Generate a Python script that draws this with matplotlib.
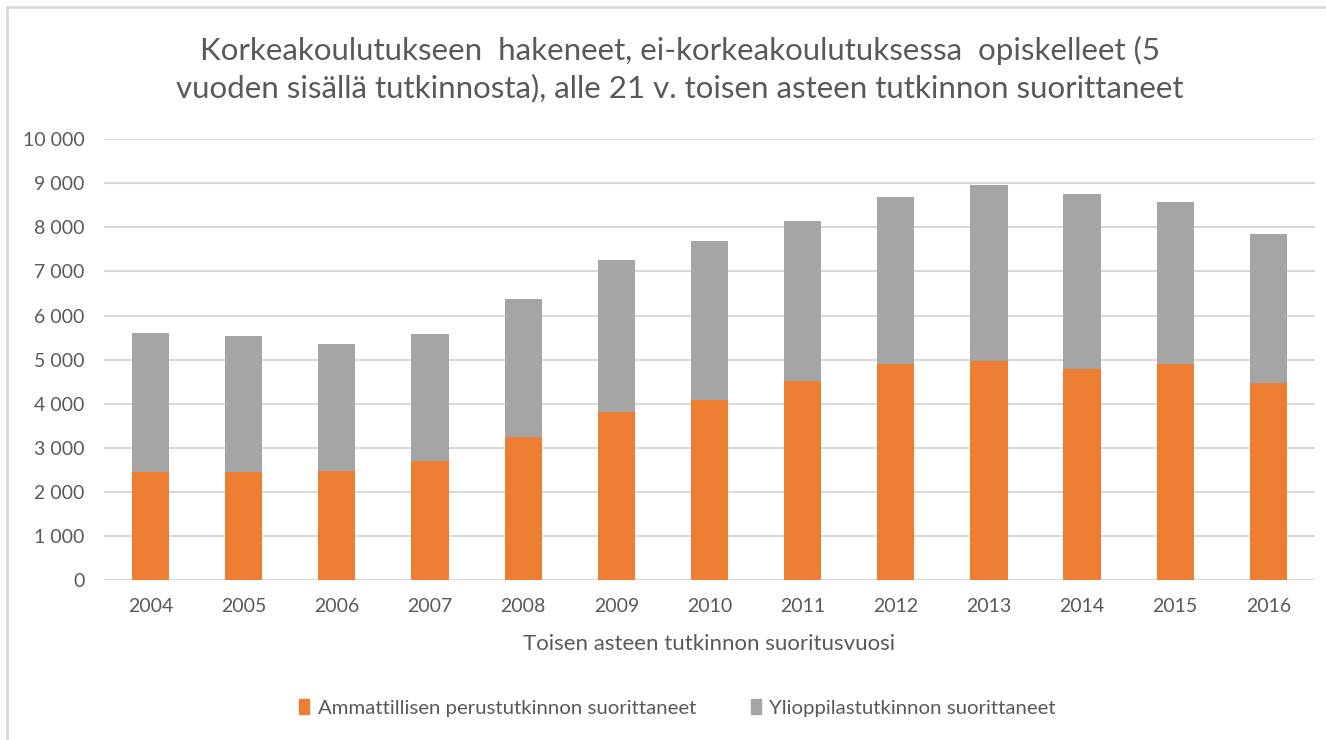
import matplotlib
matplotlib.use("Agg")
import matplotlib.pyplot as plt
from matplotlib.ticker import FuncFormatter
from matplotlib.lines import Line2D
import numpy as np

plt.rcParams['font.family'] = ['Lato', 'DejaVu Sans']

# data
years = ['2004', '2005', '2006', '2007', '2008', '2009', '2010',
         '2011', '2012', '2013', '2014', '2015', '2016']
ammatillinen = [2440, 2440, 2470, 2690, 3240, 3820, 4080,
                4510, 4910, 4970, 4780, 4910, 4460]
totals = [5600, 5540, 5360, 5590, 6380, 7270, 7690,
          8140, 8700, 8970, 8750, 8570, 7850]
ylioppilas = [t - a for t, a in zip(totals, ammatillinen)]

title = ("Korkeakoulutukseen  hakeneet, ei-korkeakoulutuksessa  opiskelleet (5\n"
         "vuoden sisällä tutkinnosta), alle 21 v. toisen asteen tutkinnon suorittaneet")
xlabel = "Toisen asteen tutkinnon suoritusvuosi"
labels = ["Ammattillisen perustutkinnon suorittaneet", "Ylioppilastutkinnon suorittaneet"]

orange = '#ED7D31'
grey = '#A5A5A5'
txt = '#595959'
gridc = '#D9D9D9'

fig = plt.figure(figsize=(13.26, 7.40), dpi=100)
ax = fig.add_axes([0.0784, 0.2162, 0.9133, 0.5956])

x = np.arange(len(years))
ax.bar(x, ammatillinen, width=0.4, color=orange, zorder=3)
ax.bar(x, ylioppilas, width=0.4, bottom=ammatillinen, color=grey, zorder=3)

ax.set_xlim(-0.5, len(years) - 0.5)
ax.set_ylim(0, 10000)
ax.set_yticks(range(0, 10001, 1000))
ax.yaxis.set_major_formatter(FuncFormatter(lambda v, p: f"{int(v):,}".replace(",", " ")))
ax.set_xticks(x)
ax.set_xticklabels(years)
ax.grid(axis='y', color=gridc, linewidth=1.5, zorder=0)
for s in ax.spines.values():
    s.set_visible(False)
ax.tick_params(length=0, labelsize=14, colors=txt)
ax.tick_params(axis='y', pad=14)
ax.tick_params(axis='x', pad=13)

fig.text(0.5 * (ax.get_position().x0 + ax.get_position().x1), 1 - 644 / 740, xlabel,
         ha='center', va='center', fontsize=16, color=txt)
fig.text(0.5125, 1 - 69 / 740, title, ha='center', va='center', fontsize=22.5,
         color=txt, linespacing=1.35)

handles = [plt.Rectangle((0, 0), 1, 1, color=orange), plt.Rectangle((0, 0), 1, 1, color=grey)]
fig.legend(handles, labels, loc='center', bbox_to_anchor=(0.511, 1 - 708 / 740), ncol=2,
           frameon=False, fontsize=14.7, handlelength=0.5, handleheight=0.7,
           handletextpad=0.4, columnspacing=2.7, labelcolor=txt)

# outer chart frame (top and left edges)
fig.add_artist(Line2D([7 / 1326, 1], [1 - 7 / 740, 1 - 7 / 740], color='#D9D9D9', linewidth=2))
fig.add_artist(Line2D([7 / 1326, 7 / 1326], [0, 1 - 7 / 740], color='#D9D9D9', linewidth=2))

fig.savefig('out.png', dpi=100)
